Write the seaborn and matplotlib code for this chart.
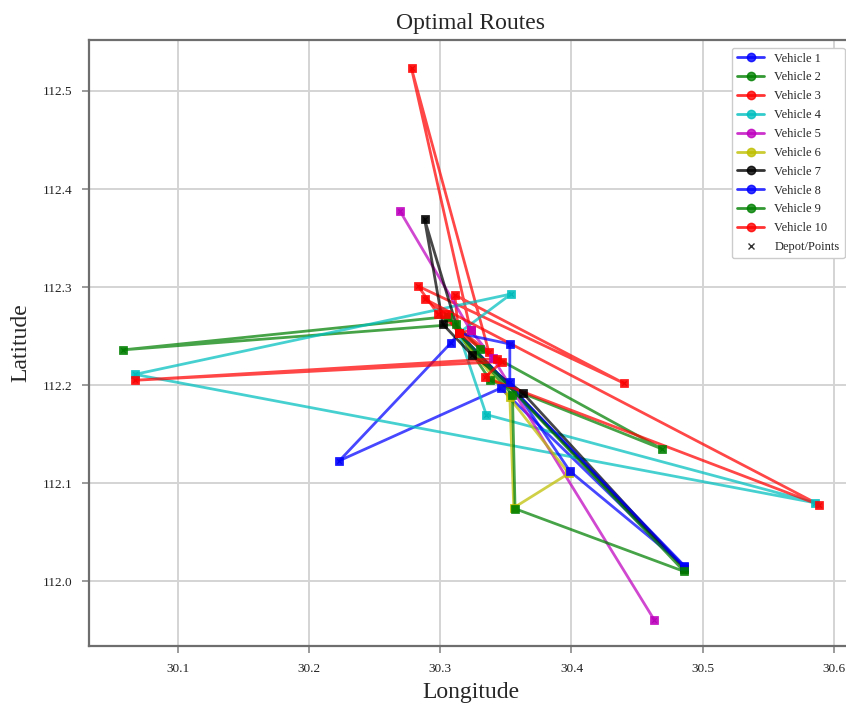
import matplotlib
matplotlib.use("Agg")
import matplotlib.pyplot as plt
from matplotlib.lines import Line2D
import seaborn as sns
import pandas as pd

# depot and route stops (lon, lat)
veh1_lon = [30.314, 30.308, 30.223, 30.346, 30.486, 30.314]
veh1_lat = [112.253, 112.243, 112.123, 112.197, 112.015, 112.253]

veh2_lon = [30.314, 30.306, 30.058, 30.312, 30.330, 30.469, 30.338, 30.314]
veh2_lat = [112.253, 112.270, 112.236, 112.262, 112.237, 112.135, 112.205, 112.253]

veh3_lon = [30.314, 30.323, 30.278, 30.337, 30.298, 30.283, 30.440, 30.311, 30.314]
veh3_lat = [112.253, 112.256, 112.523, 112.234, 112.273, 112.301, 112.202, 112.292, 112.253]

veh4_lon = [30.314, 30.354, 30.067, 30.586, 30.335, 30.314]
veh4_lat = [112.253, 112.293, 112.211, 112.080, 112.170, 112.253]

veh5_lon = [30.269, 30.323, 30.340, 30.463]
veh5_lat = [112.378, 112.256, 112.228, 111.961]

veh6_lon = [30.314, 30.353, 30.356, 30.398, 30.314]
veh6_lat = [112.253, 112.188, 112.075, 112.110, 112.253]

veh7_lon = [30.314, 30.288, 30.302, 30.324, 30.363, 30.486, 30.314]
veh7_lat = [112.253, 112.369, 112.262, 112.231, 112.192, 112.013, 112.253]

veh8_lon = [30.314, 30.353, 30.353, 30.399, 30.486, 30.314]
veh8_lat = [112.253, 112.242, 112.203, 112.112, 112.016, 112.253]

veh9_lon = [30.314, 30.355, 30.357, 30.486, 30.314]
veh9_lat = [112.253, 112.190, 112.074, 112.010, 112.253]

veh10_lon = [30.314, 30.304, 30.288, 30.589, 30.334, 30.347, 30.067, 30.343, 30.314]
veh10_lat = [112.253, 112.273, 112.288, 112.078, 112.208, 112.224, 112.205, 112.227, 112.253]

routes_lon = [veh1_lon, veh2_lon, veh3_lon, veh4_lon, veh5_lon,
              veh6_lon, veh7_lon, veh8_lon, veh9_lon, veh10_lon]
routes_lat = [veh1_lat, veh2_lat, veh3_lat, veh4_lat, veh5_lat,
              veh6_lat, veh7_lat, veh8_lat, veh9_lat, veh10_lat]
vehicles = [f"Vehicle {i}" for i in range(1, 11)]

# colores basicos de matplotlib (b, g, r, c, m, y, k)
colores = ["#0000ff", "#008000", "#ff0000", "#00bfbf", "#bf00bf",
           "#bfbf00", "#000000", "#0000ff", "#008000", "#ff0000"]

sns.set_theme(style="whitegrid")
plt.rcParams.update({
    "font.family": ["Liberation Serif", "DejaVu Serif"],
    "axes.edgecolor": "#6e6e6e",
    "axes.linewidth": 1.6,
    "grid.color": "#d4d4d4",
    "grid.linewidth": 1.4,
    "xtick.color": "#8a8a8a",
    "ytick.color": "#8a8a8a",
    "xtick.labelcolor": "#222222",
    "ytick.labelcolor": "#222222",
})

fig = plt.figure(figsize=(8.46, 7.04), dpi=100)
ax = fig.add_axes([89 / 846, 58 / 704, (852 - 89) / 846, (646 - 40) / 704])

# all stops as small crosses underneath
pts = pd.DataFrame({
    "lon": [x for r in routes_lon for x in r],
    "lat": [y for r in routes_lat for y in r],
})
sns.scatterplot(data=pts, x="lon", y="lat", marker="x", color="#333333",
                s=10, linewidth=0.8, ax=ax, zorder=1, legend=False)

for lon, lat, c in zip(routes_lon, routes_lat, colores):
    df = pd.DataFrame({"lon": lon, "lat": lat})
    sns.lineplot(data=df, x="lon", y="lat", sort=False, estimator=None,
                 color=c, linewidth=2, alpha=0.72, ax=ax,
                 legend=False, zorder=2)
    sns.scatterplot(data=df, x="lon", y="lat", marker="s", color=c, s=40,
                    linewidth=0.5, edgecolor=c, alpha=0.9, ax=ax,
                    legend=False, zorder=3)

ax.set_xlim(30.032, 30.614)
ax.set_ylim(111.934, 112.552)
ax.set_xticks([30.1, 30.2, 30.3, 30.4, 30.5, 30.6])
ax.set_yticks([112.0, 112.1, 112.2, 112.3, 112.4, 112.5])
ax.set_xticklabels(["30.1", "30.2", "30.3", "30.4", "30.5", "30.6"])
ax.set_yticklabels(["112.0", "112.1", "112.2", "112.3", "112.4", "112.5"])
ax.tick_params(axis="both", which="major", labelsize=9.5, length=5,
               width=1.2, bottom=True, left=True, pad=7)

ax.set_title("Optimal Routes", fontsize=17, pad=8)
ax.set_xlabel("Longitude", fontsize=17, labelpad=5)
ax.set_ylabel("Latitude", fontsize=17, labelpad=8)

handles = [Line2D([0], [0], color=c, marker="o", markersize=6, linewidth=2,
                  alpha=0.8) for c in colores]
handles.append(Line2D([0], [0], color="#333333", marker="x", linestyle="",
                      markersize=5))
labels = vehicles + ["Depot/Points"]
ax.legend(handles, labels, loc="upper right", fontsize=9, labelspacing=0.55,
          handlelength=2.2, frameon=True, framealpha=1, edgecolor="#cccccc",
          borderaxespad=0.6)

fig.savefig("out.png", dpi=100)
